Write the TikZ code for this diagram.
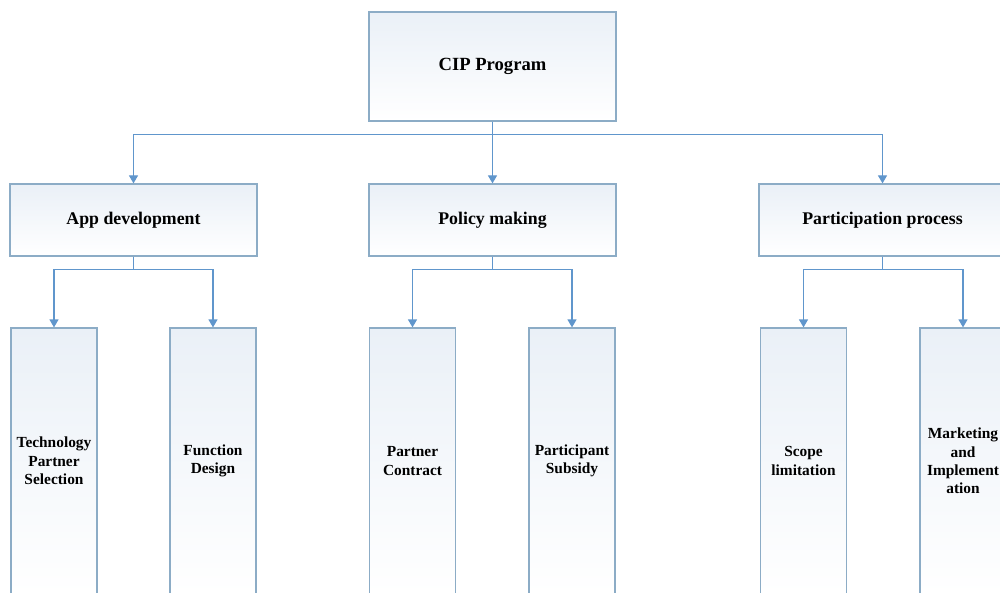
\documentclass[tikz,border=0pt]{standalone}
\usepackage{fontspec}
\setmainfont{Liberation Serif}
\usetikzlibrary{arrows.meta}
\definecolor{boxline}{RGB}{140,172,198}
\definecolor{boxtint}{RGB}{234,240,247}
\definecolor{linkblue}{RGB}{96,150,204}
\begin{document}
\begin{tikzpicture}[
    x=0.5pt, y=-0.5pt,
    every node/.style={font=\bfseries},
    box/.style={draw=boxline, semithick, top color=boxtint, bottom color=white, align=center, inner sep=1pt},
    rootbox/.style={box, minimum width=123.5pt, minimum height=54.5pt, font=\fontsize{9.3}{11}\selectfont\bfseries},
    areabox/.style={box, minimum width=123.5pt, minimum height=36pt, font=\fontsize{8.9}{10.5}\selectfont\bfseries},
    leafbox/.style={box, minimum width=43pt, minimum height=133pt, text width=40pt, font=\fontsize{7.7}{9.2}\selectfont\bfseries},
    flow/.style={-{Triangle[width=4.5pt,length=4pt]}, linkblue, semithick},
]
\useasboundingbox (0,0) rectangle (1000,593);
\node[rootbox] (cip) at (492.5,66.5) {CIP Program};
\node[areabox] (app) at (133.5,220) {App development};
\node[areabox] (policy) at (492.5,220) {Policy making};
\node[areabox] (part) at (882.5,220) {Participation process};
% leaves
\node[leafbox] (tech) at (54,461) {Technology\\Partner\\Selection};
\node[leafbox] (func) at (213,461) {Function\\Design};
\node[leafbox] (contract) at (412.5,461) {Partner\\Contract};
\node[leafbox] (subsidy) at (572,461) {Participant\\Subsidy};
\node[leafbox] (scope) at (803.5,461) {Scope\\limitation};
\node[leafbox] (market) at (963,461) {Marketing\\and\\Implement\\ation};
% connectors
\draw[flow] (cip.south) -- ++(0,13) -| (app.north);
\draw[flow] (cip.south) -- (policy.north);
\draw[flow] (cip.south) -- ++(0,13) -| (part.north);
\foreach \a/\l/\r in {app/tech/func, policy/contract/subsidy, part/scope/market} {
  \draw[flow] (\a.south) -- ++(0,13) -| (\l.north);
  \draw[flow] (\a.south) -- ++(0,13) -| (\r.north);
}
\end{tikzpicture}
\end{document}
